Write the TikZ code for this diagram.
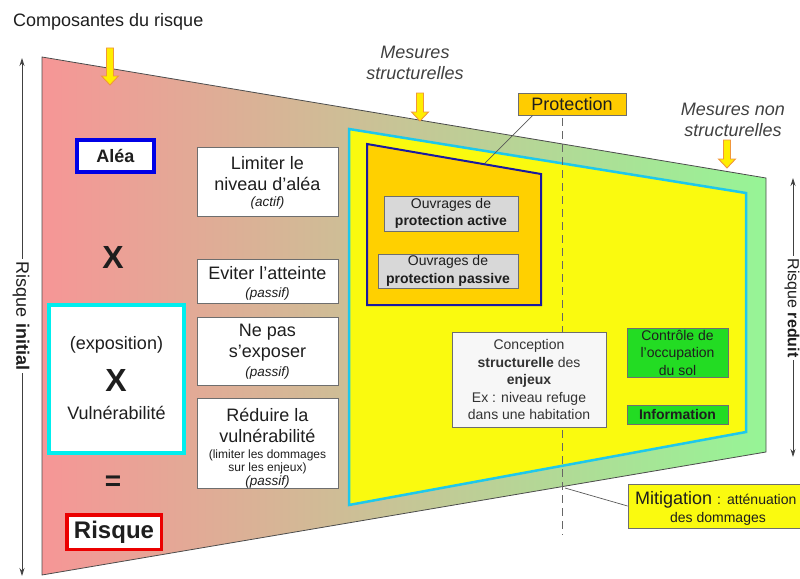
\documentclass[tikz,border=0pt]{standalone}
\usepackage{fontspec}
\setmainfont{Liberation Sans}
\usetikzlibrary{arrows.meta,calc}
\definecolor{pinkL}{RGB}{246,150,150}
\definecolor{greenL}{RGB}{150,245,150}
\definecolor{yel}{RGB}{250,250,15}
\definecolor{cyanB}{RGB}{30,200,235}
\definecolor{orP}{RGB}{255,208,0}
\definecolor{bluP}{RGB}{25,25,160}
\definecolor{boxG}{RGB}{110,110,110}
\definecolor{grayF}{RGB}{216,216,216}
\definecolor{grnB}{RGB}{35,220,35}
\definecolor{protF}{RGB}{255,204,0}
\definecolor{arrY}{RGB}{255,238,0}
\definecolor{arrO}{RGB}{240,150,60}
\definecolor{txt}{RGB}{30,30,30}
\definecolor{aleaB}{RGB}{0,0,230}
\definecolor{cyanL}{RGB}{0,238,238}
\definecolor{redR}{RGB}{235,0,0}
\newcommand\fz[2]{\fontsize{#1}{#2}\selectfont}
\newcommand\ylwarrow[3]{\filldraw[fill=arrY, draw=arrO, line width=0.9pt]
  (#1-3.5,#2) -- (#1+3.5,#2) -- (#1+3.5,#2+#3-9) -- (#1+8.5,#2+#3-9) -- (#1,#2+#3)
  -- (#1-8.5,#2+#3-9) -- (#1-3.5,#2+#3-9) -- cycle;}
\begin{document}
\begin{tikzpicture}[x=1pt,y=-1pt,
  box/.style={draw=boxG, line width=0.8pt, inner sep=0pt},
  tx/.style={text=txt, align=center, inner sep=0pt},
  big/.style={tx, font=\fz{18}{21}},
  mid/.style={tx, font=\fz{14}{17.5}},
  small/.style={tx, font=\itshape\fz{13.5}{16}},
  tiny/.style={tx, font=\fz{12}{13.5}},
  vert/.style={{Stealth[length=8pt,width=5pt]}-{Stealth[length=8pt,width=5pt]}, draw=black!75, line width=0.8pt},
  conn/.style={draw=black!65, line width=0.7pt}
]
\useasboundingbox (0,0) rectangle (800,578);

% main trapezoid
\shadedraw[left color=pinkL, right color=greenL, draw=black!70, line width=0.8pt]
  (42,57) -- (766,178) -- (766,452) -- (42,575) -- cycle;
% yellow zone
\filldraw[fill=yel, draw=cyanB, line width=2.5pt]
  (349,129) -- (746,193) -- (746,432) -- (349,505) -- cycle;
% protection zone
\filldraw[fill=orP, draw=bluP, line width=2pt]
  (367,144) -- (541,174) -- (541,305) -- (367,305) -- cycle;
% dashed separator
\draw[dash pattern=on 8pt off 5pt, draw=black!60, line width=0.8pt] (562,118) -- (562,535);

% yellow arrows
\ylwarrow{110}{48}{37}
\ylwarrow{420}{93}{28}
\ylwarrow{727}{140}{28}

% titles
\node[big, anchor=west] (comp) at (13,22) {Composantes du risque};
\node[big, font=\itshape\fz{18}{21}, text=black!75] (msl) at (415,62.5) {Mesures\\structurelles};
\node[big, font=\itshape\fz{18}{21}, text=black!75] (mnsl) at (733,119.5) {Mesures non\\structurelles};

% vertical arrows
\coordinate (lt) at (22,58);
\coordinate (lb) at (22,576);
\draw[vert] (lt) -- (lb);
\node[big, rotate=-90, fill=white, inner sep=3pt] (rinit) at (21,316) {Risque \textbf{initial}};
\coordinate (rt) at (793,178);
\coordinate (rb) at (793,457);
\draw[vert] (rt) -- (rb);
\node[tx, font=\fz{16}{19}, rotate=-90, fill=white, inner xsep=3pt, inner ysep=0.5pt] (rred) at (792,308) {Risque \textbf{reduit}};

% left column
\node[draw=aleaB, line width=4pt, fill=white, minimum width=77, minimum height=32, inner sep=0pt,
  font=\bfseries\fz{18}{21}, text=txt] (alea) at (115.5,156) {Aléa};
\node[tx, font=\bfseries\fz{32}{36}] (x1) at (113,257) {X};
\node[draw=cyanL, line width=4pt, fill=white, minimum width=135, minimum height=148] (expo) at (116.5,379) {};
\node[big] (expt) at (116.5,345) {(exposition)};
\node[tx, font=\bfseries\fz{32}{36}] (x2) at (116,380) {X};
\node[big] (vuln) at (116.5,413) {Vulnérabilité};
\node[tx, font=\bfseries\fz{28}{30}] (eq) at (113,483) {=};
\node[draw=redR, line width=3.5pt, fill=white, minimum width=94.5, minimum height=34.5, inner sep=0pt,
  font=\bfseries\fz{24}{28}, text=txt] (risq) at (114,532) {Risque};

% middle column
\node[box, fill=white, minimum width=141, minimum height=69] (b1) at (267.5,181.5) {};
\node[big] (b1t) at (267.5,173.5) {Limiter le\\niveau d'aléa};
\node[small] (b1s) at (267.5,203) {(actif)};
\node[box, fill=white, minimum width=141, minimum height=44] (b2) at (267.5,281) {};
\node[big] (b2t) at (267.5,273) {Eviter l'atteinte};
\node[small] (b2s) at (267.5,294) {(passif)};
\node[box, fill=white, minimum width=141, minimum height=68] (b3) at (267.5,351) {};
\node[big] (b3t) at (267.5,343) {Ne pas\\s'exposer};
\node[small] (b3s) at (267.5,373) {(passif)};
\node[box, fill=white, minimum width=141, minimum height=90] (b4) at (267.5,443) {};
\node[big] (b4t) at (267.5,425) {Réduire la\\vulnérabilité};
\node[tiny] (b4n) at (267.5,462) {(limiter les dommages\\sur les enjeux)};
\node[small] (b4s) at (267.5,482) {(passif)};

% protection works
\node[box, fill=grayF, minimum width=134, minimum height=35, mid] (pa) at (451,213.5)
  {Ouvrages de\\\textbf{protection active}};
\node[box, fill=grayF, minimum width=140, minimum height=34, mid] (pp) at (448,271)
  {Ouvrages de\\\textbf{protection passive}};

% protection label
\node[box, fill=protF, minimum width=108, minimum height=22, big] (prot) at (572,104) {Protection};
\coordinate (protC) at (485,163);
\draw[conn] ($(prot.south west)+(15,0)$) -- (protC);

% conception
\node[box, fill=black!3, minimum width=154, minimum height=95, mid, text=black!80] (conc) at (529,379.5)
  {Conception\\\textbf{structurelle} des\\\textbf{enjeux}\\Ex : niveau refuge\\dans une habitation};

% green boxes
\node[box, fill=grnB, minimum width=101, minimum height=49, mid] (ctrl) at (677.5,352.5)
  {Contrôle de\\l'occupation\\du sol};
\node[box, fill=grnB, minimum width=101, minimum height=19, mid, font=\bfseries\fz{14}{17}] (info) at (677.5,414.5)
  {Information};

% mitigation
\node[box, fill=yel, minimum width=180, minimum height=44] (mitig) at (718,506) {};
\node[tx, anchor=base west] (mit1) at (635,504) {\fz{18}{21}Mitigation\hspace{5pt}\fz{14}{17}:\hspace{6pt}atténuation};
\node[mid, anchor=base] (mit2) at (718,522) {des dommages};
\coordinate (mitC) at (565,488);
\draw[conn] (mitig.west) -- (mitC);
\end{tikzpicture}
\end{document}
